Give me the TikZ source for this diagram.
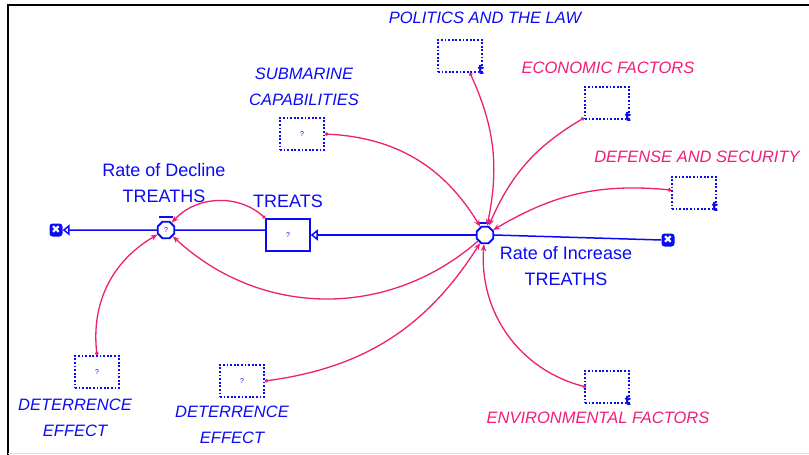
\documentclass[tikz,border=0pt]{standalone}
\usepackage{fontspec}
\setmainfont{Liberation Sans}
\newfontfamily\symfont{DejaVu Sans}
\usetikzlibrary{shapes.geometric,arrows.meta,positioning,calc}
\definecolor{flowblue}{RGB}{10,10,245}
\definecolor{linkpink}{RGB}{238,30,115}
\definecolor{textpink}{RGB}{240,30,120}

\begin{document}
\begin{tikzpicture}[x=1pt, y=-1pt,
    node distance=4pt,
    stock/.style={rectangle, draw=flowblue, line width=1.5pt, minimum width=44pt, minimum height=32pt, text=flowblue, font=\fontsize{7}{8}\selectfont},
    aux/.style={rectangle, draw=flowblue, line width=1.8pt, dash pattern=on 1.8pt off 1.8pt, minimum width=44pt, minimum height=32pt, text=flowblue, font=\fontsize{7}{8}\selectfont},
    valve/.style={regular polygon, regular polygon sides=8, draw=flowblue, fill=white, line width=1.8pt, minimum size=18pt, inner sep=0pt, text=flowblue, font=\fontsize{7}{8}\selectfont},
    cloudsym/.style={rounded corners=3pt, rectangle, fill=flowblue, minimum size=13pt, inner sep=0pt, text=white, font=\symfont\bfseries\fontsize{11}{11}\selectfont},
    lab/.style={text=flowblue, align=center, font=\fontsize{18}{25.5}\selectfont},
    ilab/.style={text=flowblue, align=center, font=\itshape\fontsize{16.5}{25.5}\selectfont},
    plab/.style={ilab, text=textpink},
    tabsym/.style={text=flowblue, inner sep=0pt, font=\symfont\bfseries\fontsize{13}{13}\selectfont},
    flow/.style={draw=flowblue, line width=1.5pt},
    inflow/.style={flow, -{Triangle[open, length=7pt, width=11pt, line width=1.5pt]}},
    link/.style={draw=linkpink, line width=1.3pt, -{Stealth[length=7pt, width=5.5pt]}},
    dotlink/.style={link, {Circle[length=3.5pt]}-{Stealth[length=7pt, width=5.5pt]}}
]
    \useasboundingbox (0,0) rectangle (809,455);
    \draw[black, line width=2pt] (8,455) -- (8,5) -- (809,5);
    \draw[black!12, line width=1pt] (8,453) -- (809,453);

    \node[stock] (treats) at (288,235) {?};
    \node[lab, above=7pt of treats] {TREATS};

    \node[valve] (decline) at (166,230) {?};
    \node[lab] at (164,183) {Rate of Decline\\TREATHS};
    \node[valve] (increase) at (485,235) {};
    \node[lab] at (566,266) {Rate of Increase\\TREATHS};
    \node[cloudsym] (sinkL) at (56,230) {✖};
    \node[cloudsym] (sourceR) at (668,240) {✖};

    \node[aux] (politics) at (460,56) {};
    \node[ilab] at (485,18) {POLITICS AND THE LAW};
    \node[aux] (economic) at (607,103) {};
    \node[plab] at (608,68) {ECONOMIC FACTORS};
    \node[aux] (defense) at (694,193) {};
    \node[plab] at (697,157) {DEFENSE AND SECURITY};
    \node[aux] (submarine) at (302,134) {?};
    \node[ilab] at (304,87) {SUBMARINE\\CAPABILITIES};
    \node[aux] (detL) at (97,372) {?};
    \node[ilab] at (75,418) {DETERRENCE\\EFFECT};
    \node[aux] (detR) at (242,381) {?};
    \node[ilab] at (232,425) {DETERRENCE\\EFFECT};
    \node[aux] (env) at (607,387) {};
    \node[plab] at (598,418) {ENVIRONMENTAL FACTORS};

    \foreach \boxname in {politics,economic,defense,env}
        \node[tabsym] at ([xshift=-2pt,yshift=3pt]\boxname.south east) {t};

    \draw[flowblue, line width=1.6pt] ([xshift=-7pt,yshift=13pt]decline.center) -- ([xshift=7pt,yshift=13pt]decline.center);
    \draw[flowblue, line width=1.6pt] ([xshift=-6pt,yshift=12pt]increase.center) -- ([xshift=6pt,yshift=12pt]increase.center);

    \draw[flow] (treats.west |- decline) -- (decline.east);
    \draw[inflow] (decline.west) -- (sinkL.east);
    \draw[flow] (sourceR.west) -- (increase.east);
    \draw[inflow] (increase.west) -- (treats.east);

    \draw[dotlink] (treats.north west) to[bend right=45] (decline);
    \draw[link] (increase) to[bend left=42] (decline);
    \draw[dotlink] (detL.north) to[bend left=33] (decline);
    \draw[dotlink] (submarine.east) to[bend left=28] (increase);
    \draw[dotlink] ([xshift=10pt]politics.south) to[bend left=18] (increase);
    \draw[dotlink] ([yshift=2pt]economic.south west) to[bend right=18] (increase);
    \draw[dotlink] ([yshift=3pt]defense.west) to[bend right=18] (increase);
    \draw[dotlink] ([xshift=2pt]env.west) to[bend left=40] (increase);
    \draw[dotlink] (detR.east) to[bend right=25] (increase);
\end{tikzpicture}
\end{document}
